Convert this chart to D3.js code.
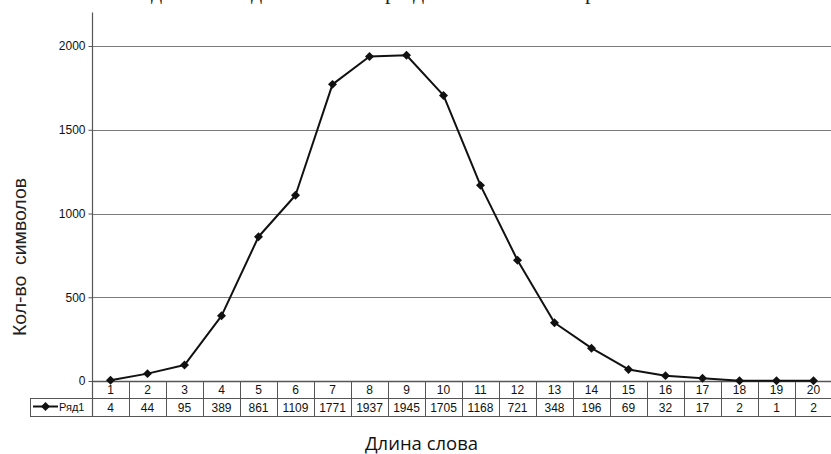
<!DOCTYPE html>
<html>
<head>
<meta charset="utf-8">
<script src="https://cdn.jsdelivr.net/npm/d3@7"></script>
<style>
  html, body { margin: 0; padding: 0; background: #fff; }
  svg { display: block; }
</style>
</head>
<body>
<svg id="chart" width="831" height="454"></svg>
<script>
const categories = ["1","2","3","4","5","6","7","8","9","10","11","12","13","14","15","16","17","18","19","20"];
const values = [4, 44, 95, 389, 861, 1109, 1771, 1937, 1945, 1705, 1168, 721, 348, 196, 69, 32, 17, 2, 1, 2];
const yTicks = [0, 500, 1000, 1500, 2000];
const seriesName = "Ряд1";
const xTitle = "Длина слова";
const yTitle = "Кол-во  символов";
const topFragments = [["д", 151], ["д", 251], ["р", 385], ["д", 413], ["р", 585]];

(function () {
const svg = d3.select("#chart");
const pLeft = 92, pRight = 832, pTop = 12.5, pBottom = 381;
const row1 = 381, row2 = 398, row3 = 416, legendLeft = 30;
const tfont = "'Liberation Sans', Arial, sans-serif";
const hfont = "'Open Sans', 'Noto Sans', sans-serif";

const x = d3.scaleBand().domain(categories).range([pLeft, pRight]);
const y = d3.scaleLinear().domain([0, 2200]).range([pBottom, pTop]);
const cx = i => x(categories[i]) + x.bandwidth() / 2;

// cut-off heading fragments at top (the reference shows only their descenders)
svg.append("g").selectAll("text").data(topFragments).join("text")
  .attr("x", d => d[1]).attr("y", -1)
  .attr("font-family", "'Liberation Serif', 'DejaVu Serif', serif")
  .attr("font-size", 22).attr("fill", "#222")
  .text(d => d[0]);

// gridlines
svg.append("g").selectAll("line").data(yTicks.filter(t => t > 0)).join("line")
  .attr("x1", pLeft).attr("x2", pRight)
  .attr("y1", d => Math.round(y(d)) + 0.5).attr("y2", d => Math.round(y(d)) + 0.5)
  .attr("stroke", "#7a7a7a").attr("stroke-width", 1);

// y axis
const yAxis = d3.axisLeft(y).tickValues(yTicks).tickFormat(d3.format("d"))
  .tickSize(4).tickPadding(3).tickSizeOuter(0);
const gy = svg.append("g").attr("transform", `translate(${pLeft + 0.5},0)`).call(yAxis);
gy.select(".domain").remove();
gy.selectAll(".tick line").attr("stroke", "#555");
gy.selectAll(".tick text")
  .attr("font-family", tfont)
  .attr("font-size", 12).attr("fill", "#111");
svg.append("line").attr("x1", pLeft + 0.5).attr("x2", pLeft + 0.5)
  .attr("y1", pTop).attr("y2", row3).attr("stroke", "#555").attr("stroke-width", 1.2);

// table
const tbl = svg.append("g").attr("stroke", "#555").attr("stroke-width", 1);
tbl.append("line").attr("x1", pLeft).attr("x2", pRight).attr("y1", row1 + 0.5).attr("y2", row1 + 0.5).attr("stroke-width", 1.3);
tbl.append("line").attr("x1", legendLeft).attr("x2", pRight).attr("y1", row2 + 0.5).attr("y2", row2 + 0.5);
tbl.append("line").attr("x1", legendLeft).attr("x2", pRight).attr("y1", row3 + 0.5).attr("y2", row3 + 0.5);
tbl.append("line").attr("x1", legendLeft + 0.5).attr("x2", legendLeft + 0.5).attr("y1", row2).attr("y2", row3);
tbl.selectAll(".vl").data(categories).join("line").attr("class", "vl")
  .attr("x1", d => Math.round(x(d) + x.bandwidth()) + 0.5)
  .attr("x2", d => Math.round(x(d) + x.bandwidth()) + 0.5)
  .attr("y1", row1).attr("y2", row3);

svg.append("g").selectAll("text").data(categories).join("text")
  .attr("x", d => x(d) + x.bandwidth() / 2).attr("y", row1 + 13)
  .attr("text-anchor", "middle").attr("font-family", tfont).attr("font-size", 12).attr("fill", "#111")
  .text(d => d);
svg.append("g").selectAll("text").data(values).join("text")
  .attr("x", (d, i) => cx(i)).attr("y", row2 + 13.5)
  .attr("text-anchor", "middle").attr("font-family", tfont).attr("font-size", 12).attr("fill", "#111")
  .text(d => d);

// legend key
const diamond = d3.symbol().type(d3.symbolSquare).size(40);
svg.append("line").attr("x1", 33).attr("x2", 58).attr("y1", row2 + 8.5).attr("y2", row2 + 8.5)
  .attr("stroke", "#111").attr("stroke-width", 2);
svg.append("path").attr("d", diamond).attr("transform", `translate(45.5,${row2 + 8.5}) rotate(45)`).attr("fill", "#111");
svg.append("text").attr("x", 59).attr("y", row2 + 12.5)
  .attr("font-family", tfont).attr("font-size", 11).attr("fill", "#111").text(seriesName);

// series line
const line = d3.line().x((d, i) => cx(i)).y(d => y(d));
svg.append("path").datum(values).attr("d", line)
  .attr("fill", "none").attr("stroke", "#111").attr("stroke-width", 2).attr("stroke-linejoin", "round");
svg.append("g").selectAll("path").data(values).join("path")
  .attr("d", diamond)
  .attr("transform", (d, i) => `translate(${cx(i)},${y(d)}) rotate(45)`)
  .attr("fill", "#111");

// axis titles
svg.append("text").attr("x", 421.5).attr("y", 450).attr("text-anchor", "middle")
  .attr("font-family", hfont).attr("font-size", 17.5).attr("fill", "#111")
  .attr("textLength", 113).attr("lengthAdjust", "spacingAndGlyphs")
  .text(xTitle);
svg.append("text").attr("transform", "translate(26,257) rotate(-90)").attr("text-anchor", "middle")
  .attr("font-family", tfont).attr("font-size", 18.5).attr("fill", "#222")
  .attr("xml:space", "preserve").style("white-space", "pre")
  .attr("textLength", 158).attr("lengthAdjust", "spacingAndGlyphs")
  .text(yTitle);
})();
</script>
</body>
</html>
